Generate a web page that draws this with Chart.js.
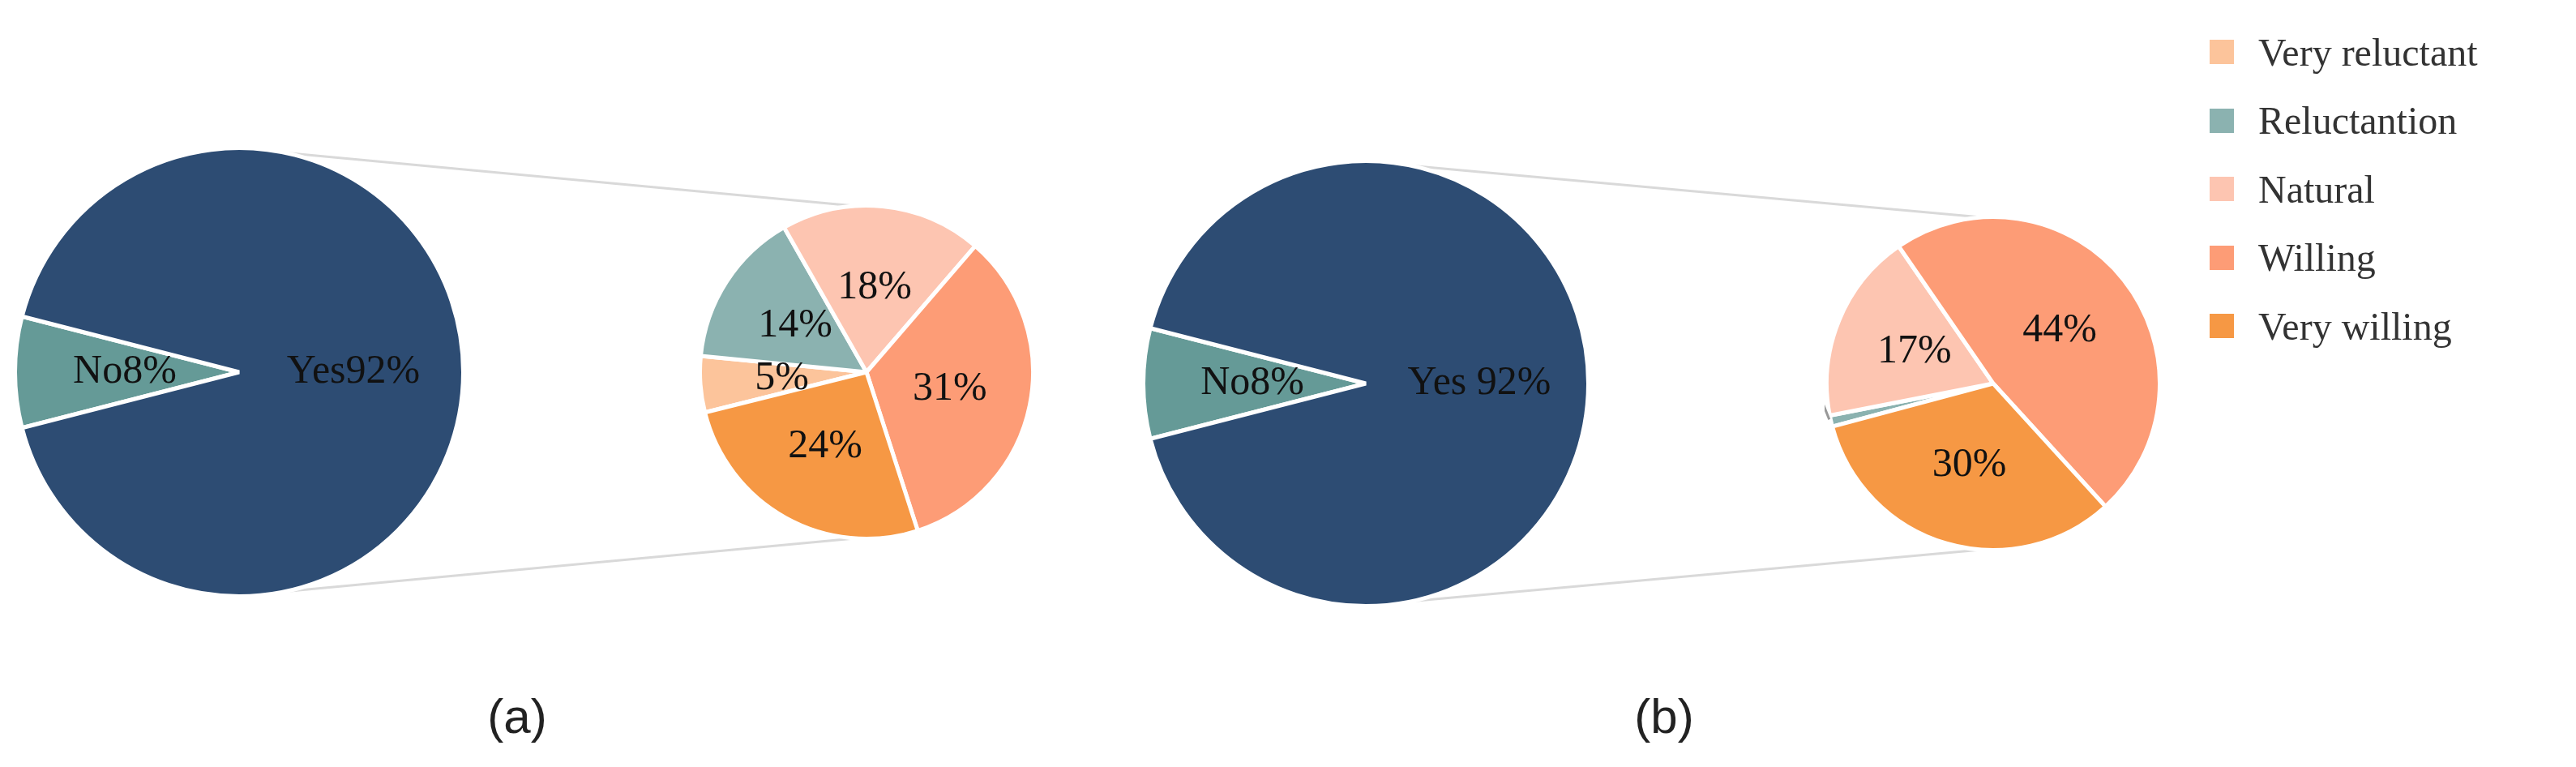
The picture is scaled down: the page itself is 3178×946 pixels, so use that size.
<!DOCTYPE html>
<html><head><meta charset="utf-8">
<script src="https://cdn.jsdelivr.net/npm/chart.js@4/dist/chart.umd.min.js"></script>
<style>
body{margin:0;width:3178px;height:946px;background:#fff;position:relative;overflow:hidden}
canvas{position:absolute}
#legend{position:absolute;left:2726px;top:22px;font-family:"Liberation Serif",serif;font-size:48px;color:#333}
#legend div{height:84.5px;display:flex;align-items:center}
#legend span{display:inline-block;width:30px;height:30px;margin-right:30px}
.cap{position:absolute;font-family:"Liberation Sans",Arial,sans-serif;font-size:60px;color:#222;transform:translate(-50%,-50%)}
</style></head><body>
<canvas id="ov" width="3178" height="946" style="left:0;top:0"></canvas>
<canvas id="ba" width="558" height="558" style="left:16px;top:180px"></canvas>
<canvas id="sa" width="416" height="416" style="left:861px;top:251px"></canvas>
<canvas id="bb" width="554" height="554" style="left:1408px;top:196px"></canvas>
<canvas id="sb" width="416" height="416" style="left:2251px;top:265px"></canvas>
<div id="legend"></div>
<div class="cap" style="left:638px;top:883px">(a)</div>
<div class="cap" style="left:2053px;top:883px">(b)</div>
<script>
const mainLabels=["No","Yes"];
const mainA=[8,92];
const mainB=[8,92];
const mainColors=["#659a97","#2d4c73"];
const subLabels=["Very reluctant","Reluctantion","Natural","Willing","Very willing"];
const subA=[5,14,18,31,24];
const subB=[0,1,17,44,30];
const subColors=["#fcc49b","#8bb2b0","#fdc5b1","#fd9c76","#f69844"];

const lg=document.getElementById('legend');
subLabels.forEach((l,i)=>{const d=document.createElement('div');d.innerHTML='<span style="background:'+subColors[i]+'"></span>'+l;lg.appendChild(d);});

const labelPlugin={id:'lbl',afterDatasetsDraw(c,a,o){
  const ctx=c.ctx,meta=c.getDatasetMeta(0),ds=c.data.datasets[0];
  ctx.save();ctx.font='50px "Liberation Serif"';ctx.fillStyle='#111';ctx.textAlign='center';ctx.textBaseline='middle';
  meta.data.forEach((arc,i)=>{
    const v=ds.data[i];const mid=(arc.startAngle+arc.endAngle)/2;const r=arc.outerRadius;
    let t=(c.options.plugins.lbl.prefix?c.data.labels[i]+c.options.plugins.lbl.sep[i]:'')+v+'%';
    if(v<2){
      const ex=arc.x+Math.cos(mid)*r, ey=arc.y+Math.sin(mid)*r;
      if(v===1){
        ctx.strokeStyle='#999';ctx.lineWidth=3;ctx.beginPath();ctx.moveTo(ex-2,ey-2);ctx.lineTo(ex-10,ey-22);ctx.lineTo(ex-30,ey-22);ctx.stroke();
        ctx.fillText(t,ex-80,ey-20);
      }else{ctx.fillText(t,ex-45,ey+55);}
      return;
    }
    ctx.fillText(t,arc.x+Math.cos(mid)*r*0.51,arc.y+Math.sin(mid)*r*0.51);
  });ctx.restore();}};

function pie(id,labels,data,colors,rot,prefix,sep){
  return new Chart(document.getElementById(id),{type:'pie',
    data:{labels:labels,datasets:[{data:data,backgroundColor:colors,borderColor:'#fff',borderWidth:5}]},
    options:{responsive:false,animation:false,rotation:rot,layout:{padding:0},
      plugins:{legend:{display:false},tooltip:{enabled:false},lbl:{prefix:prefix,sep:sep}}},
    plugins:[labelPlugin]});
}
const ca=pie('ba',mainLabels,mainA,mainColors,270-mainA[0]/100*180,true,['','']);
const cb=pie('bb',mainLabels,mainB,mainColors,270-mainB[0]/100*180,true,['',' ']);
const da=pie('sa',subLabels,subA,subColors,256,false);
const db=pie('sb',subLabels,subB,subColors,255,false);

function geom(ch,el){const a=ch.getDatasetMeta(0).data[0];return{x:a.x+el.offsetLeft,y:a.y+el.offsetTop,r:a.outerRadius};}
const ov=document.getElementById('ov').getContext('2d');
ov.strokeStyle='#d9d9d9';ov.lineWidth=3;
[[ca,'ba',da,'sa'],[cb,'bb',db,'sb']].forEach(([b,bi,s,si])=>{
  const B=geom(b,document.getElementById(bi)),S=geom(s,document.getElementById(si));
  const a1=12*Math.PI/180,a2=-4*Math.PI/180;
  [1,-1].forEach(sg=>{ov.beginPath();
    ov.moveTo(B.x+Math.sin(a1)*B.r,B.y-sg*Math.cos(a1)*B.r);
    ov.lineTo(S.x+Math.sin(a2)*S.r,S.y-sg*Math.cos(a2)*S.r);ov.stroke();});
});
</script></body></html>
